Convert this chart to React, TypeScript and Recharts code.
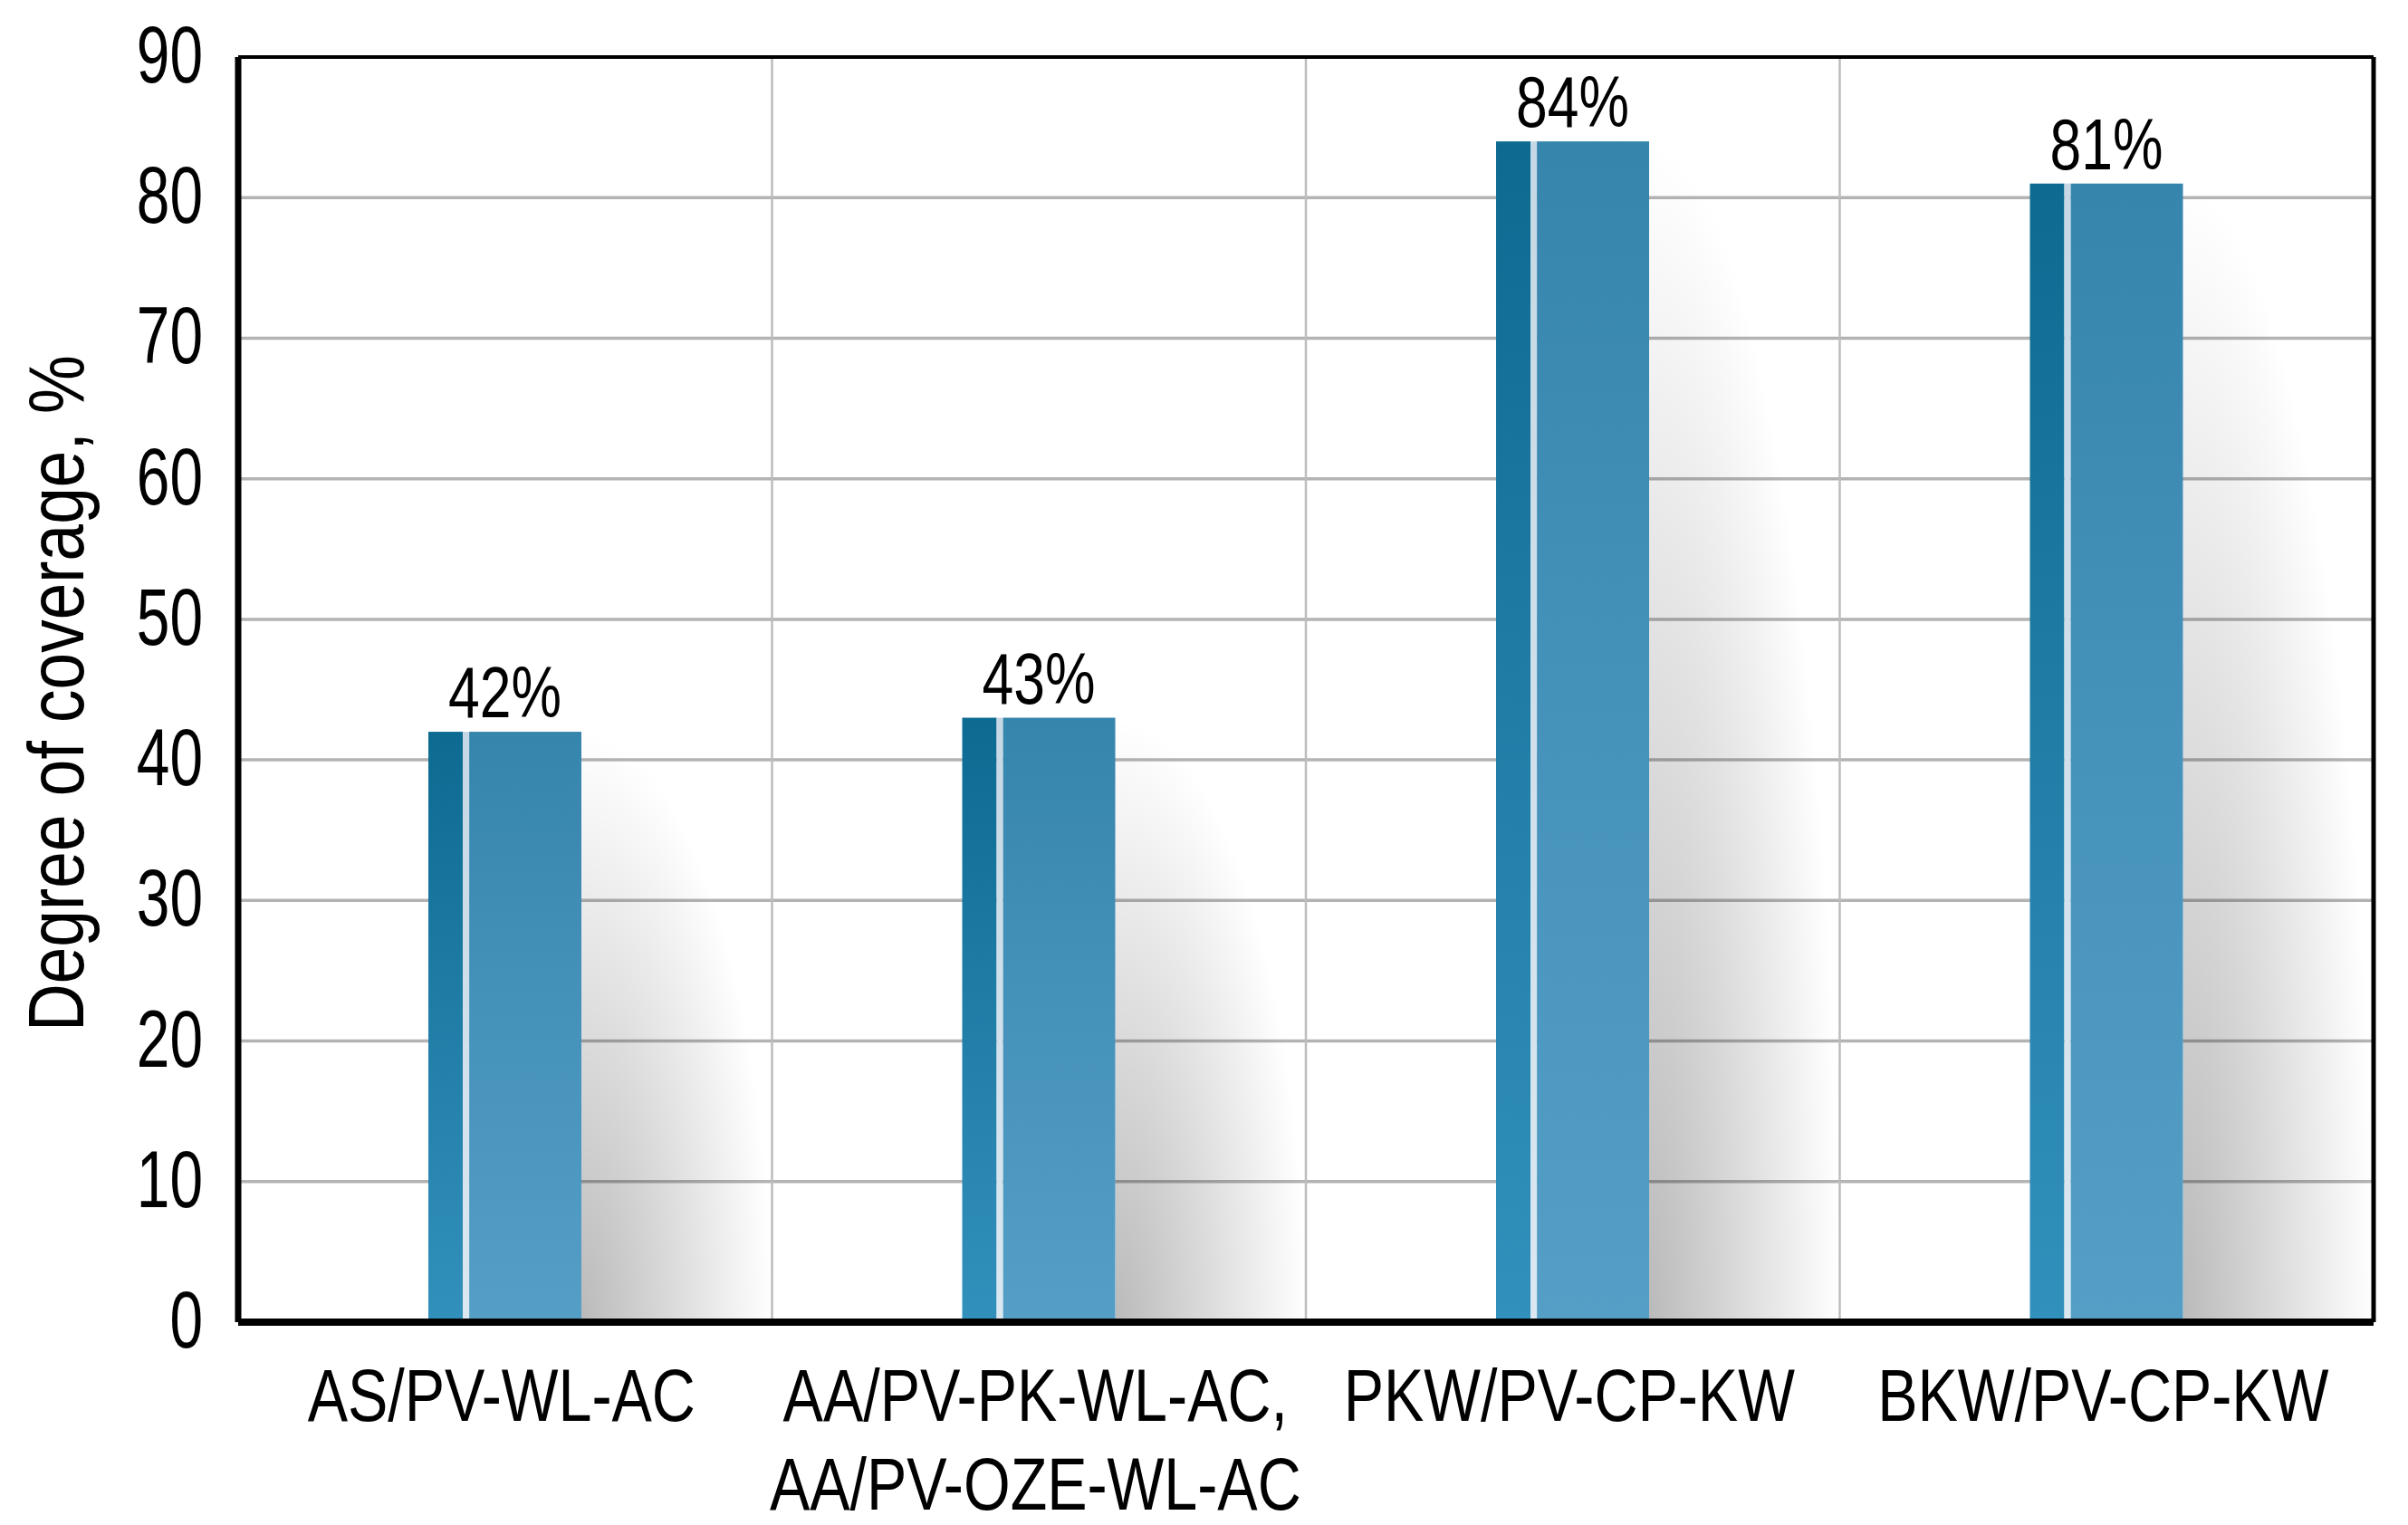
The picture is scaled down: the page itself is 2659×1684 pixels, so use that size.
import React from 'react';
import { BarChart, Bar, XAxis, YAxis, CartesianGrid, ReferenceLine, LabelList, Label } from 'recharts';

const categories = ['AS/PV-WL-AC', 'AA/PV-PK-WL-AC,\nAA/PV-OZE-WL-AC', 'PKW/PV-CP-KW', 'BKW/PV-CP-KW'];
const coverage = [42, 43, 84, 81];
const yTicks = [0, 10, 20, 30, 40, 50, 60, 70, 80, 90];
const boundaryTicks = [1, 2, 3];
const yLabel = 'Degree of coverage, %';

const data = categories.map((c, i) => ({ name: c, value: coverage[i] }));
const FONT = '"Liberation Sans", Arial, sans-serif';

function plotOffset(args: any) {
  const o = args && args.offset;
  if (o && typeof o.left === 'number' && typeof o.width === 'number') return o;
  return { left: 263, width: 2358 };
}

const boundaryGen = (args: any) => {
  const o = plotOffset(args);
  return boundaryTicks.map((i) => o.left + (o.width * i) / categories.length);
};
const rightGen = (args: any) => {
  const o = plotOffset(args);
  return [o.left + o.width];
};

function BarShape(props: any) {
  const { x, y, width, height } = props;
  const dw = width * 0.225;
  const gw = width * 0.042;
  return (
    <g>
      <rect x={x + width} y={y} width={width * 1.25} height={height} fill="url(#shadowGrad)" />
      <rect x={x} y={y} width={dw} height={height} fill="url(#darkGrad)" />
      <rect x={x + dw} y={y} width={gw} height={height} fill="url(#gapGrad)" />
      <rect x={x + dw + gw} y={y} width={width - dw - gw} height={height} fill="url(#mainGrad)" />
    </g>
  );
}

function YTick(props: any) {
  const { x, y, payload } = props;
  return (
    <g transform={`translate(${x - 4},${y + 28}) scale(0.74,1)`}>
      <text x={0} y={0} textAnchor="end" fontSize={89} fontFamily={FONT} fill="#000">
        {payload.value}
      </text>
    </g>
  );
}

function XTick(props: any) {
  const { x, y, payload } = props;
  const lines = String(payload.value).split('\n');
  return (
    <g transform={`translate(${x - 4},${y + 101}) scale(0.81,1)`}>
      {lines.map((l, i) => (
        <text key={i} x={0} y={i * 98} textAnchor="middle" fontSize={82} fontFamily={FONT} fill="#000">
          {l}
        </text>
      ))}
    </g>
  );
}

function ValueLabel(props: any) {
  const { x, y, width, value } = props;
  return (
    <g transform={`translate(${x + width / 2},${y - 16}) scale(0.78,1)`}>
      <text x={0} y={0} textAnchor="middle" fontSize={80} fontFamily={FONT} fill="#000">
        {value}%
      </text>
    </g>
  );
}

function YAxisTitle(props: any) {
  const vb = props.viewBox || { x: 0, y: 63, width: 263, height: 1397 };
  const cy = vb.y + vb.height / 2 + 4;
  return (
    <g transform={`translate(${vb.x + 92},${cy}) rotate(-90) scale(0.83,1)`}>
      <text x={0} y={0} textAnchor="middle" fontSize={88} fontFamily={FONT} fill="#000">
        {yLabel}
      </text>
    </g>
  );
}

export default function App() {
  return (
    <div style={{ position: 'absolute', left: 0, top: 0, background: '#fff' }}>
      <BarChart
        width={2659}
        height={1684}
        data={data}
        margin={{ top: 63, right: 38, left: 0, bottom: 0 }}
      >
        <defs>
          <linearGradient id="darkGrad" x1="0" y1="0" x2="0" y2="1">
            <stop offset="0%" stopColor="#0d6b92" />
            <stop offset="100%" stopColor="#3290bc" />
          </linearGradient>
          <linearGradient id="mainGrad" x1="0" y1="0" x2="0" y2="1">
            <stop offset="0%" stopColor="#3685ad" />
            <stop offset="100%" stopColor="#559fc7" />
          </linearGradient>
          <linearGradient id="gapGrad" x1="0" y1="0" x2="0" y2="1">
            <stop offset="0%" stopColor="#c6d8e5" />
            <stop offset="100%" stopColor="#dbe8f1" />
          </linearGradient>
          <radialGradient id="shadowGrad" cx="0" cy="1" r="1" fx="0" fy="1">
            <stop offset="0%" stopColor="#000" stopOpacity={0.27} />
            <stop offset="45%" stopColor="#000" stopOpacity={0.15} />
            <stop offset="85%" stopColor="#000" stopOpacity={0.04} />
            <stop offset="100%" stopColor="#000" stopOpacity={0} />
          </radialGradient>
        </defs>
        <CartesianGrid vertical={false} stroke="#b3b3b3" strokeWidth={3.5} />
        <CartesianGrid horizontal={false} verticalCoordinatesGenerator={boundaryGen} stroke="#bdbdbd" strokeWidth={2.5} />
        <XAxis
          dataKey="name"
          type="category"
          axisLine={{ stroke: '#000', strokeWidth: 8 }}
          tickLine={false}
          tick={<XTick />}
          height={224}
          interval={0}
        />
        <YAxis
          type="number"
          domain={[0, 90]}
          ticks={yTicks}
          width={263}
          axisLine={{ stroke: '#000', strokeWidth: 7 }}
          tickLine={false}
          tick={<YTick />}
          tickMargin={29}
          interval={0}
        >
          <Label content={<YAxisTitle />} position="insideLeft" />
        </YAxis>
        <Bar dataKey="value" barSize={169} shape={<BarShape />} isAnimationActive={false}>
          <LabelList dataKey="value" content={<ValueLabel />} />
        </Bar>
        <CartesianGrid horizontal={false} verticalCoordinatesGenerator={rightGen} stroke="#000" strokeWidth={5} />
        <ReferenceLine y={90} stroke="#000" strokeWidth={4} />
      </BarChart>
    </div>
  );
}
